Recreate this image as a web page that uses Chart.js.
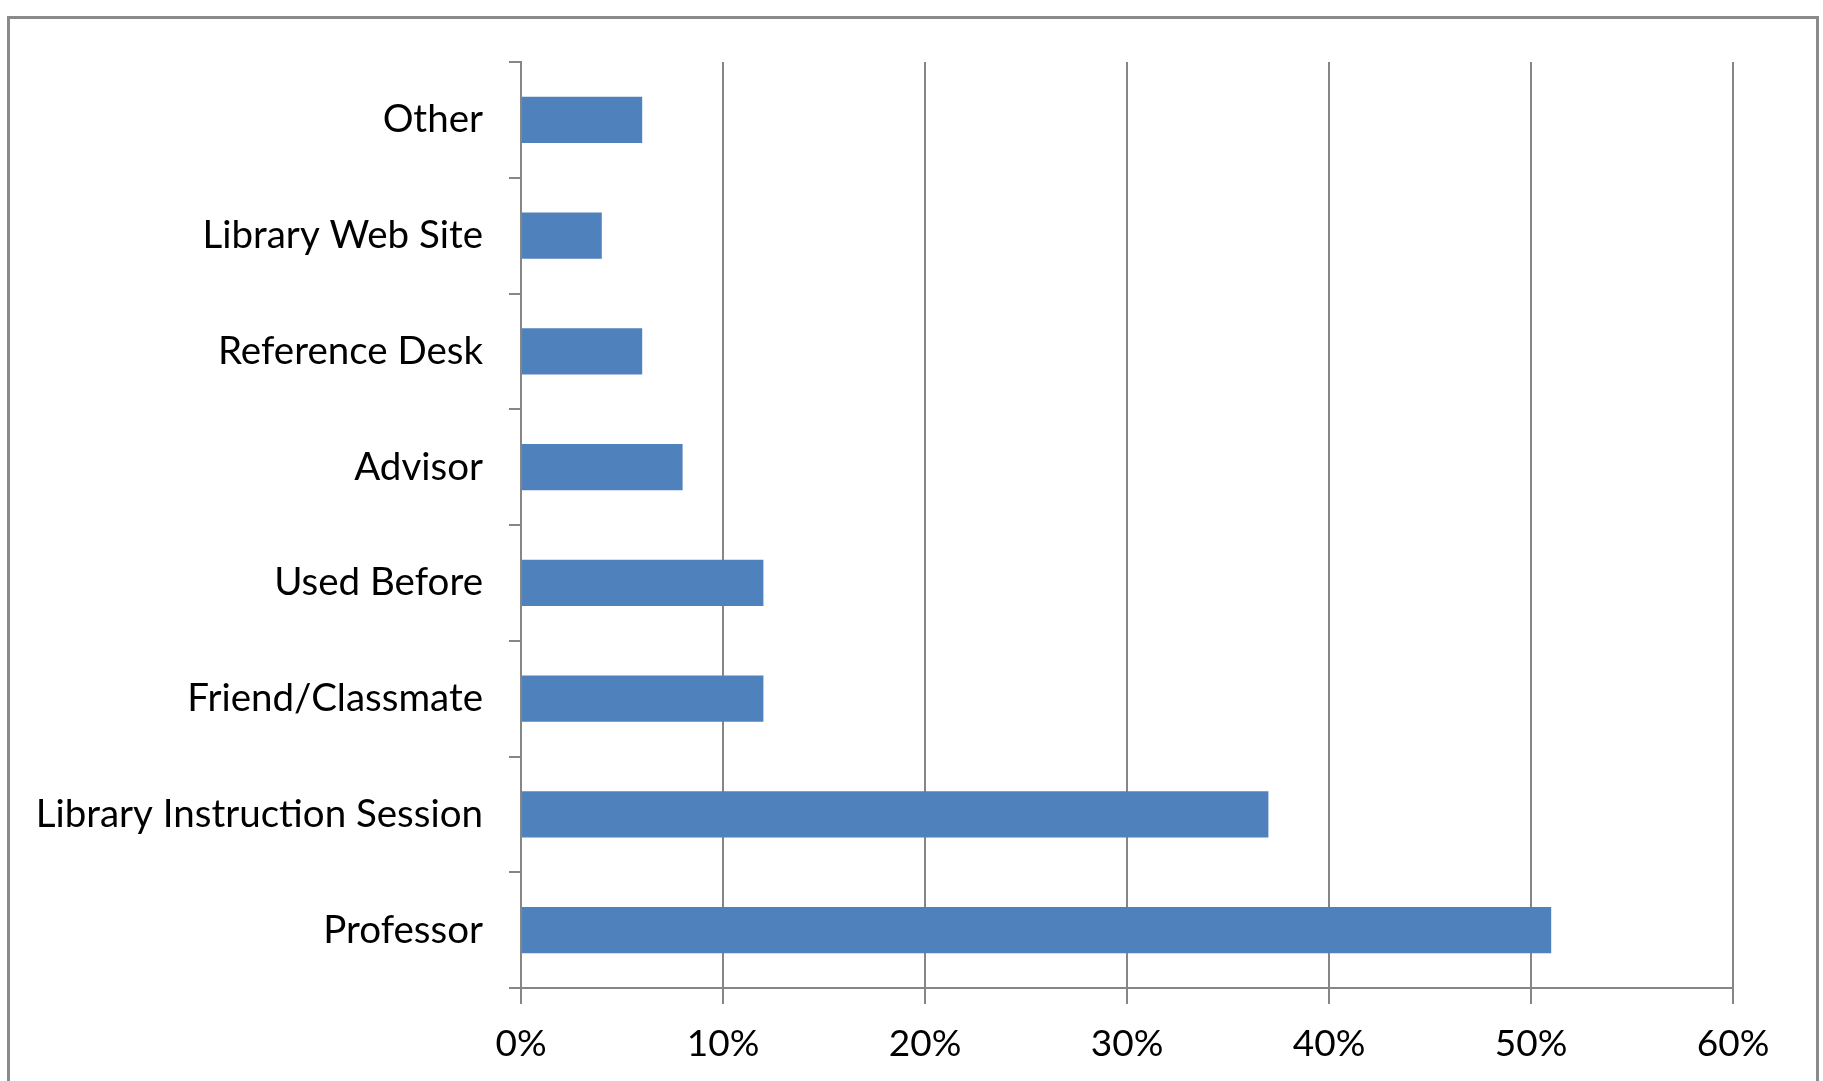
<!DOCTYPE html>
<html><head><meta charset="utf-8">
<script src="https://cdn.jsdelivr.net/npm/chart.js@4"></script>
<style>
html,body{margin:0;padding:0;background:#fff;overflow:hidden;width:1823px;height:1081px;}
#frame{position:absolute;left:7px;top:16px;width:1806px;height:1200px;border:3px solid #8a8a8a;}
#c{position:absolute;left:0;top:0;}
</style></head><body>
<div id="frame"></div>
<canvas id="c" width="1823" height="1081"></canvas>
<script>
const categories = ['Other','Library Web Site','Reference Desk','Advisor','Used Before','Friend/Classmate','Library Instruction Session','Professor'];
const values = [6,4,6,8,12,12,37,51];
const xTickLabels = ['0%','10%','20%','30%','40%','50%','60%'];

const FONT = {family:'Lato', size:38.5};
const GRID = '#868686';

new Chart(document.getElementById('c'), {
  type:'bar',
  data:{labels:categories, datasets:[{data:values, backgroundColor:'#4F81BD', borderWidth:0, barPercentage:0.40, categoryPercentage:1.0}]},
  options:{
    indexAxis:'y', responsive:false, devicePixelRatio:1, animation:false,
    layout:{padding:{left:0, top:62, right:90, bottom:0}},
    plugins:{legend:{display:false}, tooltip:{enabled:false}},
    scales:{
      x:{min:0, max:60,
        ticks:{stepSize:10, font:{family:'Lato', size:37}, color:'#000', padding:18, maxRotation:0,
          callback:(v,i)=>xTickLabels[i]},
        grid:{color:GRID, lineWidth:2, tickLength:16, drawTicks:true},
        border:{color:GRID, width:2},
        afterFit:s=>{s.height=93;}
      },
      y:{
        ticks:{font:FONT, color:'#000', padding:26},
        grid:{offset:true, drawOnChartArea:false, tickLength:12, color:GRID, lineWidth:2},
        border:{color:GRID, width:2},
        afterFit:s=>{s.width=521;}
      }
    }
  }
});
</script>
</body></html>
